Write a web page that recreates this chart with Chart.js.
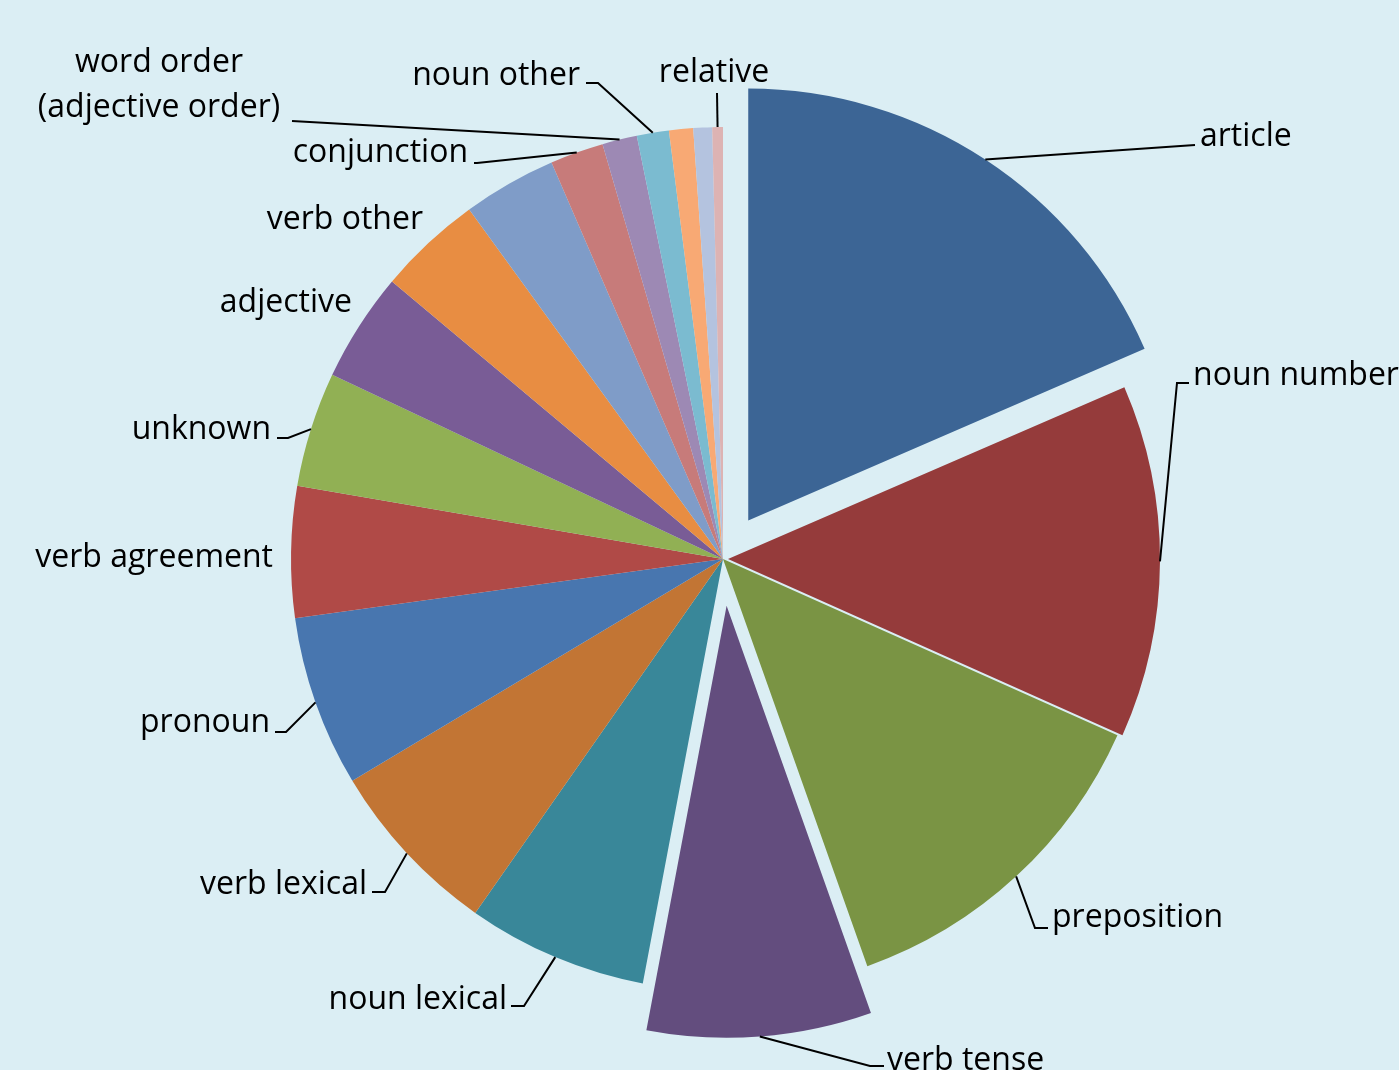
<!DOCTYPE html>
<html>
<head>
<meta charset="utf-8">
<script src="https://cdn.jsdelivr.net/npm/chart.js@4/dist/chart.umd.min.js"></script>
<style>
    html, body { margin: 0; padding: 0; background: #DBEEF4; }
    #wrap { position: relative; width: 1399px; height: 1070px; }
</style>
</head>
<body>
<div id="wrap"><canvas id="errorPie"></canvas></div>
<script>
// Error categories, clockwise from 12 o'clock ('' = slice with no label shown)
const categories = ['article', 'noun number', 'preposition', 'verb tense', 'noun lexical', 'verb lexical',
    'pronoun', 'verb agreement', 'unknown', 'adjective', 'verb other', '', 'conjunction',
    ['word order', '(adjective order)'], 'noun other', '', '', 'relative'];

// Share of errors (%)
const shares = [18.5, 13.2, 12.9, 8.4, 6.75, 6.7, 6.4, 4.9, 4.3, 4.1, 3.9, 3.5, 2.0, 1.3, 1.2, 0.9, 0.7, 0.4];

// Slice colours
const sliceColors = ['#3C6595', '#953B3B', '#7A9444', '#634D7E', '#398799', '#C27534', '#4876AF', '#B04A47',
    '#91B054', '#795C96', '#E88D42', '#7F9CC8', '#C77B7A', '#9D89B4', '#7BBBD0', '#F8A974', '#B4C3DF', '#DDB3B3'];

// Pulled-out slices (px along the slice's middle)
const explode = [46, 5, 0, 47, 0, 0, 0, 0, 0, 0, 0, 0, 0, 0, 0, 0, 0, 0];

// Label placement relative to the pie centre: text anchor, leader end point, horizontal elbow length
const labelLayout = [
    { tx: 477, ty: -425, align: 'left', end: [472, -414], elbow: 0 },
    { tx: 470, ty: -186, align: 'left', end: [466, -176], elbow: 12 },
    { tx: 329, ty: 356, align: 'left', end: [325, 369], elbow: 13 },
    { tx: 164, ty: 499, align: 'left', end: [161, 507], elbow: 14 },
    { tx: -216, ty: 438, align: 'right', end: [-212, 447], elbow: 13 },
    { tx: -356, ty: 323, align: 'right', end: [-351, 333], elbow: 13 },
    { tx: -453, ty: 161, align: 'right', end: [-448, 173], elbow: 11 },
    { tx: -450, ty: -4, align: 'right', end: null },
    { tx: -452, ty: -132, align: 'right', end: [-446, -121], elbow: 11 },
    { tx: -371, ty: -259, align: 'right', end: null },
    { tx: -300, ty: -342, align: 'right', end: null },
    null,
    { tx: -255, ty: -409, align: 'right', end: [-249, -396], elbow: 3 },
    { tx: -564, ty: -499, align: 'center', end: [-431, -438], elbow: 0 },
    { tx: -143, ty: -486, align: 'right', end: [-137, -476], elbow: 12 },
    null,
    null,
    { tx: -9, ty: -489, align: 'center', end: [-6, -466], elbow: 0 }
];

// Move exploded slices out along their bisector
const explodePlugin = {
    id: 'explode',
    afterUpdate(chart) {
        chart.getDatasetMeta(0).data.forEach(function(arc, i) {
            const d = explode[i];
            if (!d || arc._origDraw) return;
            arc._origDraw = arc.draw;
            arc.draw = function(ctx) {
                const a = (this.startAngle + this.endAngle) / 2;
                ctx.save();
                ctx.translate(Math.cos(a) * d, Math.sin(a) * d);
                this._origDraw(ctx);
                ctx.restore();
            };
        });
    }
};

// Excel-style data labels with leader lines
const labelPlugin = {
    id: 'sliceLabels',
    afterDatasetsDraw(chart) {
        const ctx = chart.ctx;
        const meta = chart.getDatasetMeta(0);
        ctx.save();
        ctx.font = '32px "Open Sans"';
        ctx.fillStyle = '#000';
        ctx.strokeStyle = '#000';
        ctx.lineWidth = 2;
        ctx.textBaseline = 'middle';
        meta.data.forEach(function(arc, i) {
            const lay = labelLayout[i];
            if (!lay || !categories[i]) return;
            const cx = arc.x, cy = arc.y;
            const a = (arc.startAngle + arc.endAngle) / 2;
            const r = arc.outerRadius + explode[i];
            if (lay.end) {
                const px = cx + Math.cos(a) * r, py = cy + Math.sin(a) * r;
                const ex = cx + lay.end[0], ey = cy + lay.end[1];
                const dir = lay.align === 'right' ? 1 : -1;
                ctx.beginPath();
                ctx.moveTo(px, py);
                ctx.lineTo(ex + dir * lay.elbow, ey);
                ctx.lineTo(ex, ey);
                ctx.stroke();
            }
            ctx.textAlign = lay.align;
            const lines = Array.isArray(categories[i]) ? categories[i] : [categories[i]];
            lines.forEach(function(line, k) {
                // +3 nudges the em-box middle onto the visual middle of the text
                ctx.fillText(line, cx + lay.tx, cy + lay.ty + 3 + k * 45);
            });
        });
        ctx.restore();
    }
};

const pieChart = new Chart(document.getElementById('errorPie'), {
    type: 'pie',
    data: {
        labels: categories.map(c => Array.isArray(c) ? c.join(' ') : c),
        datasets: [{
            data: shares,
            backgroundColor: sliceColors,
            borderWidth: 0
        }]
    },
    options: {
        responsive: true,
        maintainAspectRatio: false,
        devicePixelRatio: 1,
        animation: false,
        layout: { padding: { left: 291, right: 244, top: 127, bottom: 79 } },
        plugins: {
            legend: { display: false },
            tooltip: { enabled: false }
        }
    },
    plugins: [explodePlugin, labelPlugin]
});
</script>
</body>
</html>
